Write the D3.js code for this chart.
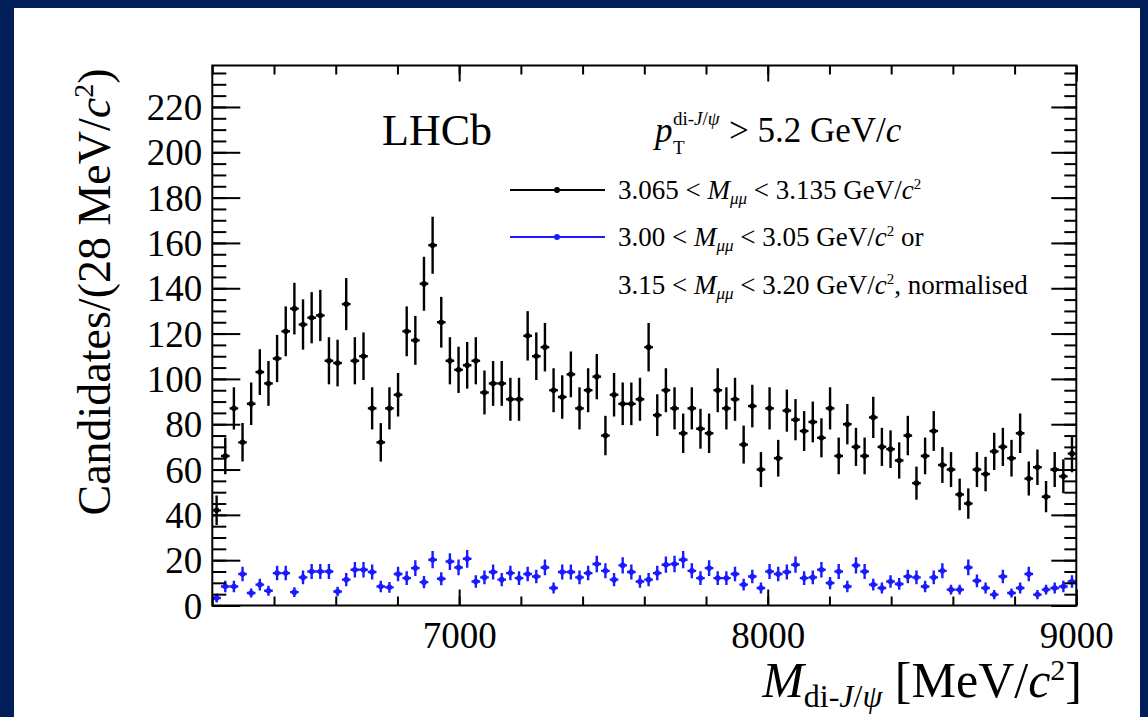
<!DOCTYPE html>
<html>
<head>
<meta charset="utf-8">
<script src="https://cdn.jsdelivr.net/npm/d3@7"></script>
<style>
  body { margin: 0; background: #021e5b; }
  svg { display: block; font-family: "Liberation Serif", "DejaVu Serif", serif; }
</style>
</head>
<body>
<svg id="chart" width="1148" height="717"></svg>
<script>
// histogram binning (MeV/c^2)
var massLow = 6200, massHigh = 9000, binWidth = 28;

// 3.065 < M_mumu < 3.135 GeV/c^2
var signalCounts = [42, 66, 87, 72, 89, 103, 98, 109, 121, 131,
    124, 127, 128, 108, 107, 133, 108, 110, 87, 72,
    87, 93, 121, 117, 142, 159, 125, 108, 104, 106,
    108, 94, 98, 98, 91, 91, 119, 110, 114, 95,
    92, 102, 87, 95, 101, 75, 93, 89, 89, 91,
    114, 84, 95, 87, 76, 87, 78, 76, 95, 87,
    91, 71, 88, 60, 87, 65, 86, 82, 77, 81,
    74, 87, 66, 80, 70, 66, 83, 70, 69, 64,
    75, 54, 66, 77, 62, 60, 49, 45, 60, 58,
    68, 70, 65, 76, 56, 61, 48, 60, 57, 67];
var signalErrors = [6.5, 8.1, 9.3, 8.5, 9.4, 10.1, 9.9, 10.4, 11.0, 11.4,
    11.1, 11.3, 11.3, 10.4, 10.3, 11.5, 10.4, 10.5, 9.3, 8.5,
    9.3, 9.6, 11.0, 10.8, 11.9, 12.6, 11.2, 10.4, 10.2, 10.3,
    10.4, 9.7, 9.9, 9.9, 9.5, 9.5, 10.9, 10.5, 10.7, 9.7,
    9.6, 10.1, 9.3, 9.7, 10.0, 8.7, 9.6, 9.4, 9.4, 9.5,
    10.7, 9.2, 9.7, 9.3, 8.7, 9.3, 8.8, 8.7, 9.7, 9.3,
    9.5, 8.4, 9.4, 7.7, 9.3, 8.1, 9.3, 9.1, 8.8, 9.0,
    8.6, 9.3, 8.1, 8.9, 8.4, 8.1, 9.1, 8.4, 8.3, 8.0,
    8.7, 7.3, 8.1, 8.8, 7.9, 7.7, 7.0, 6.7, 7.7, 7.6,
    8.2, 8.4, 8.1, 8.7, 7.5, 7.8, 6.9, 7.7, 7.5, 8.2];

// sidebands, normalised
var sidebandCounts = [3.3, 8.4, 8.4, 13.9, 5.5, 9.2, 6.5, 14.3, 14.3, 5.9,
    12.4, 15.0, 15.0, 15.0, 6.2, 11.4, 15.8, 15.8, 14.8, 8.4,
    8.0, 13.9, 12.1, 16.5, 10.3, 20.2, 11.8, 19.4, 16.8, 20.6,
    10.6, 12.4, 14.8, 11.4, 14.3, 12.1, 13.9, 12.8, 16.8, 7.7,
    14.8, 14.8, 12.4, 14.3, 18.3, 15.3, 11.4, 17.7, 14.8, 10.6,
    11.4, 14.3, 18.0, 18.3, 20.2, 15.3, 12.1, 16.5, 12.1, 12.1,
    13.9, 9.2, 12.8, 7.7, 15.0, 13.9, 14.8, 18.0, 12.1, 12.4,
    15.8, 9.9, 15.0, 8.4, 17.7, 15.0, 9.2, 7.7, 10.6, 9.5,
    12.8, 12.4, 8.4, 12.4, 15.3, 7.0, 7.0, 16.8, 10.9, 7.7,
    4.8, 12.8, 5.5, 7.7, 13.9, 4.8, 7.0, 7.7, 8.4, 10.6];
var sidebandErrors = [2.0, 2.5, 2.5, 3.2, 2.0, 2.6, 2.2, 3.2, 3.2, 2.1,
    3.0, 3.3, 3.3, 3.3, 2.1, 2.9, 3.4, 3.4, 3.3, 2.5,
    2.4, 3.2, 3.0, 3.5, 2.7, 3.8, 2.9, 3.7, 3.5, 3.9,
    2.8, 3.0, 3.3, 2.9, 3.2, 3.0, 3.2, 3.0, 3.5, 2.4,
    3.3, 3.3, 3.0, 3.2, 3.6, 3.3, 2.9, 3.6, 3.3, 2.8,
    2.9, 3.2, 3.6, 3.6, 3.8, 3.3, 3.0, 3.5, 3.0, 3.0,
    3.2, 2.6, 3.0, 2.4, 3.3, 3.2, 3.3, 3.6, 3.0, 3.0,
    3.4, 2.7, 3.3, 2.5, 3.6, 3.3, 2.6, 2.4, 2.8, 2.6,
    3.0, 3.0, 2.5, 3.0, 3.3, 2.2, 2.2, 3.5, 2.8, 2.4,
    2.0, 3.0, 2.0, 2.4, 3.2, 2.0, 2.2, 2.4, 2.5, 2.8];

var xMajorTicks = [7000, 8000, 9000];
var yMajorTicks = [0, 20, 40, 60, 80, 100, 120, 140, 160, 180, 200, 220];
var yMax = 238.3;

var black = '#000000', blue = '#1a1aff';

var svg = d3.select('#chart');

// white panel on the navy slide
svg.append('rect').attr('x', 0).attr('y', 0).attr('width', 1148).attr('height', 717).attr('fill', '#021e5b');
svg.append('rect').attr('x', 14).attr('y', 8).attr('width', 1126).attr('height', 709).attr('fill', '#ffffff');

// frame edges (note: "top" is reserved on window, so prefix)
var plotLeft = 212.3, plotRight = 1076.3, plotTop = 65.5, plotBottom = 605.5;

var x = d3.scaleLinear().domain([massLow, massHigh]).range([plotLeft, plotRight]);
var y = d3.scaleLinear().domain([0, yMax]).range([plotBottom, plotTop]);

var defs = svg.append('defs');
defs.append('clipPath').attr('id', 'plotClip')
    .append('rect').attr('x', plotLeft).attr('y', plotTop)
    .attr('width', plotRight - plotLeft).attr('height', plotBottom - plotTop);

// ---- data points with error bars
var binLows = d3.range(massLow, massHigh, binWidth);

function drawSeries(counts, errors, color) {
    var rows = binLows.map(function (lo, i) {
        return { lo: lo, hi: lo + binWidth, mid: lo + binWidth / 2, v: counts[i], e: errors[i] };
    });
    var g = svg.append('g').attr('clip-path', 'url(#plotClip)');
    var pts = g.selectAll('g.pt').data(rows).enter().append('g').attr('class', 'pt');
    pts.append('line')
        .attr('x1', function (d) { return x(d.lo); })
        .attr('x2', function (d) { return x(d.hi); })
        .attr('y1', function (d) { return y(d.v); })
        .attr('y2', function (d) { return y(d.v); })
        .attr('stroke', color).attr('stroke-width', 2.4);
    pts.append('line')
        .attr('x1', function (d) { return x(d.mid); })
        .attr('x2', function (d) { return x(d.mid); })
        .attr('y1', function (d) { return y(d.v - d.e); })
        .attr('y2', function (d) { return y(d.v + d.e); })
        .attr('stroke', color).attr('stroke-width', 2.4);
    pts.append('circle')
        .attr('cx', function (d) { return x(d.mid); })
        .attr('cy', function (d) { return y(d.v); })
        .attr('r', 2.8)
        .attr('fill', color);
}

drawSeries(sidebandCounts, sidebandErrors, blue);
drawSeries(signalCounts, signalErrors, black);

// ---- axes (ROOT style, ticks inside on all four sides)
var xMinor = d3.range(massLow, massHigh + 1, 200);
var yMinor = d3.range(0, yMax, 5);

function tickStyle(g) {
    g.select('.domain').remove();
    g.selectAll('line').attr('stroke', '#000').attr('stroke-width', 2);
}

svg.append('g').attr('transform', 'translate(0,' + plotBottom + ')')
    .call(d3.axisBottom(x).tickValues(xMinor).tickSize(-9).tickFormat(''))
    .call(tickStyle);
svg.append('g').attr('transform', 'translate(0,' + plotBottom + ')')
    .call(d3.axisBottom(x).tickValues(xMajorTicks).tickSize(-16).tickFormat(d3.format('d')))
    .call(tickStyle)
    .call(function (g) {
        g.selectAll('text').attr('fill', '#000').attr('font-size', 37)
            .attr('font-family', '"Liberation Serif", serif')
            .attr('y', 42).attr('dy', 0);
    });
svg.append('g').attr('transform', 'translate(0,' + plotTop + ')')
    .call(d3.axisTop(x).tickValues(xMinor).tickSize(-9).tickFormat(''))
    .call(tickStyle);
svg.append('g').attr('transform', 'translate(0,' + plotTop + ')')
    .call(d3.axisTop(x).tickValues(xMajorTicks).tickSize(-16).tickFormat(''))
    .call(tickStyle);

svg.append('g').attr('transform', 'translate(' + plotLeft + ',0)')
    .call(d3.axisLeft(y).tickValues(yMinor).tickSize(-14).tickFormat(''))
    .call(tickStyle);
svg.append('g').attr('transform', 'translate(' + plotLeft + ',0)')
    .call(d3.axisLeft(y).tickValues(yMajorTicks).tickSize(-28).tickPadding(10).tickFormat(d3.format('d')))
    .call(tickStyle)
    .call(function (g) {
        g.selectAll('text').attr('fill', '#000').attr('font-size', 37)
            .attr('font-family', '"Liberation Serif", serif')
            .attr('dy', '0.34em');
    });
svg.append('g').attr('transform', 'translate(' + plotRight + ',0)')
    .call(d3.axisRight(y).tickValues(yMinor).tickSize(-12).tickFormat(''))
    .call(tickStyle);
svg.append('g').attr('transform', 'translate(' + plotRight + ',0)')
    .call(d3.axisRight(y).tickValues(yMajorTicks).tickSize(-25).tickFormat(''))
    .call(tickStyle);

svg.append('rect')
    .attr('x', plotLeft).attr('y', plotTop)
    .attr('width', plotRight - plotLeft).attr('height', plotBottom - plotTop)
    .attr('fill', 'none').attr('stroke', '#000').attr('stroke-width', 2);

// ---- axis titles
var yTitle = svg.append('text')
    .attr('transform', 'translate(110,292) rotate(-90)')
    .attr('text-anchor', 'middle').attr('font-size', 46).attr('fill', '#000');
yTitle.append('tspan').text('Candidates/(28 MeV/');
yTitle.append('tspan').attr('font-style', 'italic').text('c');
yTitle.append('tspan').attr('font-size', 28).attr('dy', -17).text('2');
yTitle.append('tspan').attr('dy', 17).text(')');

var xTitle = svg.append('text')
    .attr('x', 1082).attr('y', 697)
    .attr('text-anchor', 'end').attr('font-size', 50).attr('fill', '#000');
xTitle.append('tspan').attr('font-style', 'italic').text('M');
xTitle.append('tspan').attr('font-size', 32).attr('dy', 10).text('di-');
xTitle.append('tspan').attr('font-size', 32).attr('font-style', 'italic').text('J');
xTitle.append('tspan').attr('font-size', 32).text('/');
xTitle.append('tspan').attr('font-size', 32).attr('font-style', 'italic').text('ψ');
xTitle.append('tspan').attr('dy', -10).text(' [MeV/');
xTitle.append('tspan').attr('font-style', 'italic').text('c');
xTitle.append('tspan').attr('font-size', 30).attr('dy', -17).text('2');
xTitle.append('tspan').attr('dy', 17).text(']');

// ---- labels
svg.append('text').attr('x', 382).attr('y', 145).attr('font-size', 44).attr('fill', '#000').text('LHCb');

var ptLabel = svg.append('g').attr('fill', '#000');
ptLabel.append('text').attr('x', 655).attr('y', 142).attr('font-size', 35).attr('font-style', 'italic').text('p');
ptLabel.append('text').attr('x', 673).attr('y', 125).attr('font-size', 19)
    .call(function (t) {
        t.append('tspan').text('di-');
        t.append('tspan').attr('font-style', 'italic').text('J');
        t.append('tspan').text('/');
        t.append('tspan').attr('font-style', 'italic').text('ψ');
    });
ptLabel.append('text').attr('x', 673).attr('y', 154).attr('font-size', 19).text('T');
ptLabel.append('text').attr('x', 729).attr('y', 142).attr('font-size', 35)
    .call(function (t) {
        t.append('tspan').text('> 5.2 GeV/');
        t.append('tspan').attr('font-style', 'italic').text('c');
    });

// ---- legend
var legendRows = [
    { y: 190, color: black, lo: '3.065', hi: '3.135', tail: '' },
    { y: 237, color: blue, lo: '3.00', hi: '3.05', tail: ' or' },
    { y: 285, color: null, lo: '3.15', hi: '3.20', tail: ', normalised' }
];
var legend = svg.append('g');
legendRows.forEach(function (r) {
    if (r.color) {
        legend.append('line').attr('x1', 510).attr('x2', 605).attr('y1', r.y).attr('y2', r.y)
            .attr('stroke', r.color).attr('stroke-width', 2);
        legend.append('circle').attr('cx', 557).attr('cy', r.y).attr('r', 3).attr('fill', r.color);
    }
    var t = legend.append('text').attr('x', 618).attr('y', r.y + 9).attr('font-size', 27).attr('fill', '#000');
    t.append('tspan').text(r.lo + ' < ');
    t.append('tspan').attr('font-style', 'italic').text('M');
    t.append('tspan').attr('font-style', 'italic').attr('font-size', 17).attr('dy', 5).text('μμ');
    t.append('tspan').attr('dy', -5).text(' < ' + r.hi + ' GeV/');
    t.append('tspan').attr('font-style', 'italic').text('c');
    t.append('tspan').attr('font-size', 15).attr('dy', -10).text('2');
    t.append('tspan').attr('dy', 10).text(r.tail);
});
</script>
</body>
</html>
